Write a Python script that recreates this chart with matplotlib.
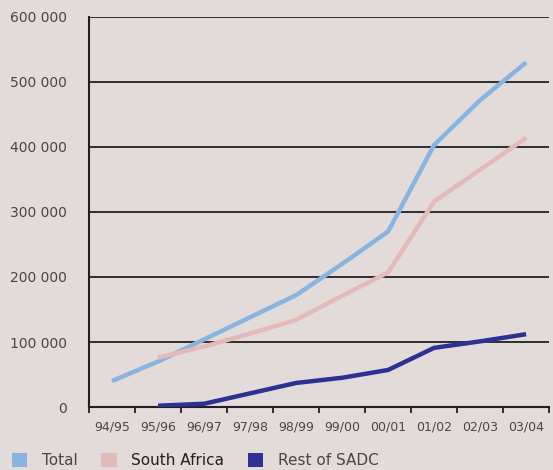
import matplotlib.pyplot as plt
from matplotlib.patches import Patch
import numpy as np

# data
years = ["94/95", "95/96", "96/97", "97/98", "98/99", "99/00", "00/01", "01/02", "02/03", "03/04"]
total = [40000, 70000, 104000, 138000, 172000, 220000, 270000, 403000, 472000, 530000]
south_africa = [None, 76000, 93000, 113000, 134000, 171000, 207000, 316000, 365000, 414000]
rest_of_sadc = [None, 2000, 5000, 21000, 37000, 45000, 57000, 91000, 101000, 112000]

bg = "#e3dbda"
txt = "#4a4545"
c_total = "#8ab4e0"
c_sa = "#e3b9b9"
c_rest = "#2e3192"

fig = plt.figure(figsize=(5.53, 4.70), dpi=100, facecolor=bg)
ax = fig.add_axes([0.161, 0.134, 0.832, 0.830])
ax.set_facecolor(bg)

x = np.arange(len(years))

def series(vals):
    xs = [i for i, v in zip(x, vals) if v is not None]
    ys = [v for v in vals if v is not None]
    return xs, ys

ax.plot(*series(total), color=c_total, lw=3.2, solid_capstyle="butt", zorder=3)
ax.plot(*series(south_africa), color=c_sa, lw=3.2, solid_capstyle="butt", zorder=3)
ax.plot(*series(rest_of_sadc), color=c_rest, lw=3.2, solid_capstyle="butt", zorder=4)

ax.set_ylim(0, 600000)
ax.set_xlim(-0.5, len(years) - 0.5)
yt = np.arange(0, 600001, 100000)
ax.set_yticks(yt)
ax.set_yticklabels(["0"] + [f"{v // 1000} 000" for v in yt[1:]], color=txt, fontsize=10)
ax.tick_params(axis="y", length=0, pad=16)

for v in yt[1:]:
    ax.axhline(v, color="#231f20", lw=1.3, zorder=2)

ax.set_xticks(x)
ax.set_xticklabels(years, color=txt, fontsize=9)
ax.tick_params(axis="x", which="major", length=0, pad=10)
ax.set_xticks(np.arange(-0.5, len(years)), minor=True)
ax.tick_params(axis="x", which="minor", length=4, width=1.3, color="#231f20")

for s in ["top", "right"]:
    ax.spines[s].set_visible(False)
for s in ["left", "bottom"]:
    ax.spines[s].set_color("#231f20")
    ax.spines[s].set_linewidth(1.5)

handles = [Patch(facecolor=c_total, edgecolor="none"),
           Patch(facecolor=c_sa, edgecolor="none"),
           Patch(facecolor=c_rest, edgecolor="none")]
leg = fig.legend(handles, ["Total", "South Africa", "Rest of SADC"],
                 loc="lower left", bbox_to_anchor=(0.022, 0.004), ncol=3,
                 frameon=False, fontsize=11, borderpad=0, borderaxespad=0,
                 handlelength=1.0, handleheight=1.0,
                 handletextpad=0.95, columnspacing=1.55)
for t in leg.get_texts():
    t.set_color(txt)
leg.get_texts()[1].set_color("#231f20")

fig.savefig("out.png", dpi=100, facecolor=bg)
